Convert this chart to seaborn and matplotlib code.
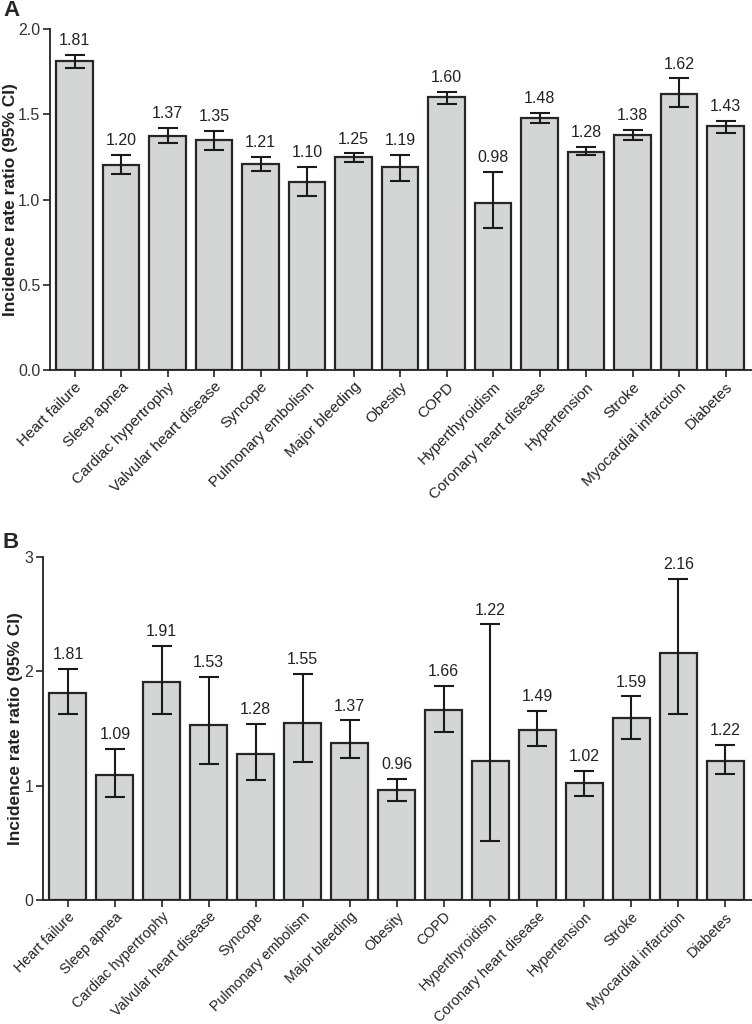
import numpy as np
import pandas as pd
import matplotlib
matplotlib.use("Agg")
import matplotlib.pyplot as plt
import seaborn as sns

categories = ["Heart failure", "Sleep apnea", "Cardiac hypertrophy", "Valvular heart disease",
              "Syncope", "Pulmonary embolism", "Major bleeding", "Obesity", "COPD",
              "Hyperthyroidism", "Coronary heart disease", "Hypertension", "Stroke",
              "Myocardial infarction", "Diabetes"]

irr_a = [1.81, 1.20, 1.37, 1.35, 1.21, 1.10, 1.25, 1.19, 1.60, 0.98, 1.48, 1.28, 1.38, 1.62, 1.43]
lo_a = [1.77, 1.15, 1.33, 1.29, 1.17, 1.02, 1.22, 1.11, 1.56, 0.83, 1.45, 1.26, 1.35, 1.54, 1.39]
hi_a = [1.85, 1.26, 1.42, 1.40, 1.25, 1.19, 1.27, 1.26, 1.63, 1.16, 1.51, 1.31, 1.41, 1.71, 1.46]

irr_b = [1.81, 1.09, 1.91, 1.53, 1.28, 1.55, 1.37, 0.96, 1.66, 1.22, 1.49, 1.02, 1.59, 2.16, 1.22]
lo_b = [1.63, 0.90, 1.63, 1.19, 1.05, 1.21, 1.24, 0.87, 1.47, 0.52, 1.35, 0.91, 1.41, 1.63, 1.10]
hi_b = [2.02, 1.32, 2.22, 1.95, 1.54, 1.98, 1.57, 1.06, 1.87, 2.41, 1.65, 1.13, 1.78, 2.81, 1.36]

yticks_a = [0.0, 0.5, 1.0, 1.5, 2.0]
yticks_b = [0, 1, 2, 3]

sns.set_style("ticks")
plt.rcParams['font.family'] = ['Liberation Sans', 'DejaVu Sans']

fig = plt.figure(figsize=(7.52, 10.24), dpi=100)
W, H = 752, 1024

def panel(rect, vals, lo, hi, yticks, fmt, letter, letter_pos, ylab_x, xfs):
    l, t, r, b = rect
    ax = fig.add_axes([l / W, 1 - b / H, (r - l) / W, (b - t) / H])
    df = pd.DataFrame({"cat": categories, "val": vals})
    sns.barplot(data=df, x="cat", y="val", ax=ax, color="#d4d5d5",
                edgecolor="#262626", linewidth=1.6, width=0.79, errorbar=None,
                saturation=1)
    x = np.arange(len(categories))
    v = np.array(vals); lo = np.array(lo); hi = np.array(hi)
    ax.errorbar(x, v, yerr=[v - lo, hi - v], fmt="none", ecolor="#1a1a1a",
                elinewidth=1.5, capsize=7, capthick=1.5, zorder=5)
    for xi, h, val in zip(x, hi, vals):
        ax.annotate(f"{val:.2f}", (xi, h), xytext=(0, 5), textcoords="offset points",
                    ha="center", va="bottom", fontsize=11.5, color="#222222")
    ax.set_ylim(yticks[0], yticks[-1])
    ax.set_yticks(yticks)
    ax.set_yticklabels([fmt.format(t) for t in yticks], fontsize=11.5, color="#333333")
    ax.set_xlim(-0.53, 14.57)
    ax.set_xticks(x)
    ax.set_xticklabels(categories, rotation=45, ha="right", rotation_mode="anchor",
                       fontsize=xfs, color="#222222")
    ax.set_xlabel("")
    ax.set_ylabel("Incidence rate ratio (95% CI)", fontsize=12.5, fontweight="bold",
                  color="#222222")
    ax.yaxis.set_label_coords((ylab_x - l) / (r - l), 0.5)
    sns.despine(ax=ax)
    for s in ["left", "bottom"]:
        ax.spines[s].set_linewidth(1.3)
        ax.spines[s].set_color("#222222")
    ax.tick_params(axis="both", length=5, width=1.2, color="#222222", pad=2)
    fig.text(letter_pos[0] / W, 1 - letter_pos[1] / H, letter, fontsize=16,
             fontweight="bold", ha="left", va="center")
    return ax

panel((50, 29, 752, 370), irr_a, lo_a, hi_a, yticks_a, "{:.1f}", "A", (3, 10), 18, 11)
panel((43, 557, 752, 900), irr_b, lo_b, hi_b, yticks_b, "{:d}", "B", (3, 543), 23, 10.3)

fig.savefig("out.png", dpi=100)
